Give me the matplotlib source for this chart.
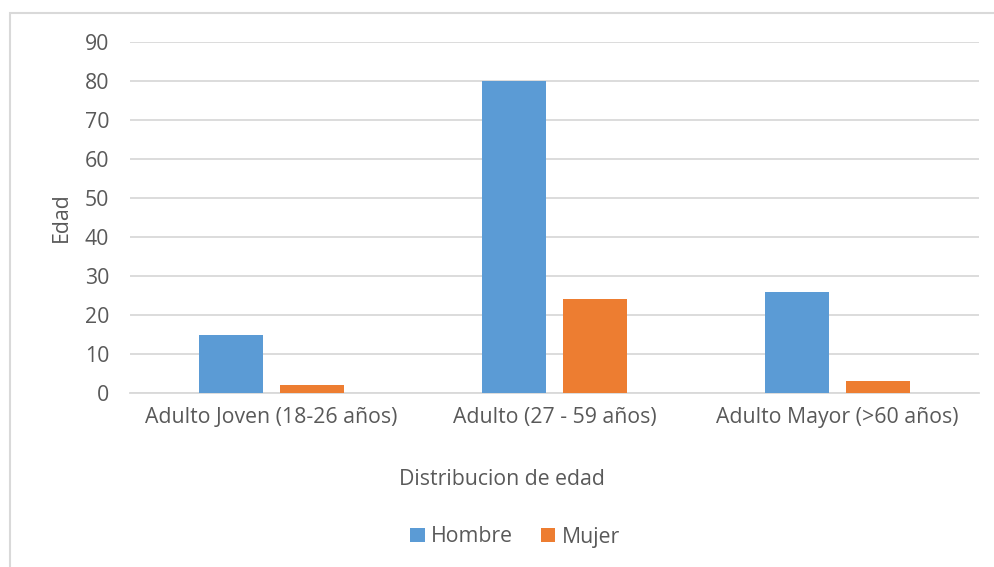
import numpy as np
import matplotlib.pyplot as plt
from matplotlib.patches import Rectangle

# datos de la distribucion de edad por sexo
categorias = ["Adulto Joven (18-26 años)", "Adulto (27 - 59 años)", "Adulto Mayor (>60 años)"]
hombre = [15, 80, 26]
mujer = [2, 24, 3]
series = ["Hombre", "Mujer"]
yticks = [0, 10, 20, 30, 40, 50, 60, 70, 80, 90]

azul = "#5B9BD5"
naranja = "#ED7D31"
gris_texto = "#595959"
gris_linea = "#D9D9D9"
fs = 15.3

plt.rcParams['font.family'] = ['Open Sans', 'DejaVu Sans']

fig = plt.figure(figsize=(9.95, 5.67), dpi=100)
ax = fig.add_axes([130/995, 1 - 393/567, (979 - 130)/995, (393 - 42)/567])

x = np.arange(len(categorias))
ancho = 0.223
ax.bar(x - 0.143, hombre, ancho, color=azul, label=series[0], zorder=3)
ax.bar(x + 0.143, mujer, ancho, color=naranja, label=series[1], zorder=3)

ax.set_xlim(-0.5, len(categorias) - 0.5)
ax.set_ylim(0, 90)
ax.set_yticks(yticks)
ax.set_xticks(x)
ax.set_xticklabels(categorias)
ax.tick_params(axis="both", length=0, labelsize=fs, labelcolor=gris_texto)
ax.tick_params(axis="y", pad=15)
ax.tick_params(axis="x", pad=10)

ax.grid(axis="y", color=gris_linea, linewidth=1.3, zorder=0)
for s in ["top", "right", "left"]:
    ax.spines[s].set_visible(False)
ax.spines["bottom"].set_color(gris_linea)
ax.spines["bottom"].set_linewidth(1.3)

ax.set_ylabel("Edad", fontsize=fs, color=gris_texto)
ax.yaxis.set_label_coords(-58/849, 0.5)
ax.set_xlabel("Distribucion de edad", fontsize=fs, color=gris_texto)
ax.xaxis.set_label_coords((502 - 130)/849, -(469 - 393)/351)

ax.legend(loc="center", bbox_to_anchor=(515/995, 1 - 537/567), bbox_transform=fig.transFigure,
          ncol=2, frameon=False, fontsize=fs, labelcolor=gris_texto,
          handlelength=0.68, handleheight=0.68, handletextpad=0.3, columnspacing=1.3)

# marco del grafico
fig.add_artist(Rectangle((9.5/995, -0.1), 2, 1 - 12.5/567 + 0.1, transform=fig.transFigure,
                         fill=False, edgecolor=gris_linea, linewidth=1.5))

fig.savefig("out.png", dpi=100, facecolor="white")
